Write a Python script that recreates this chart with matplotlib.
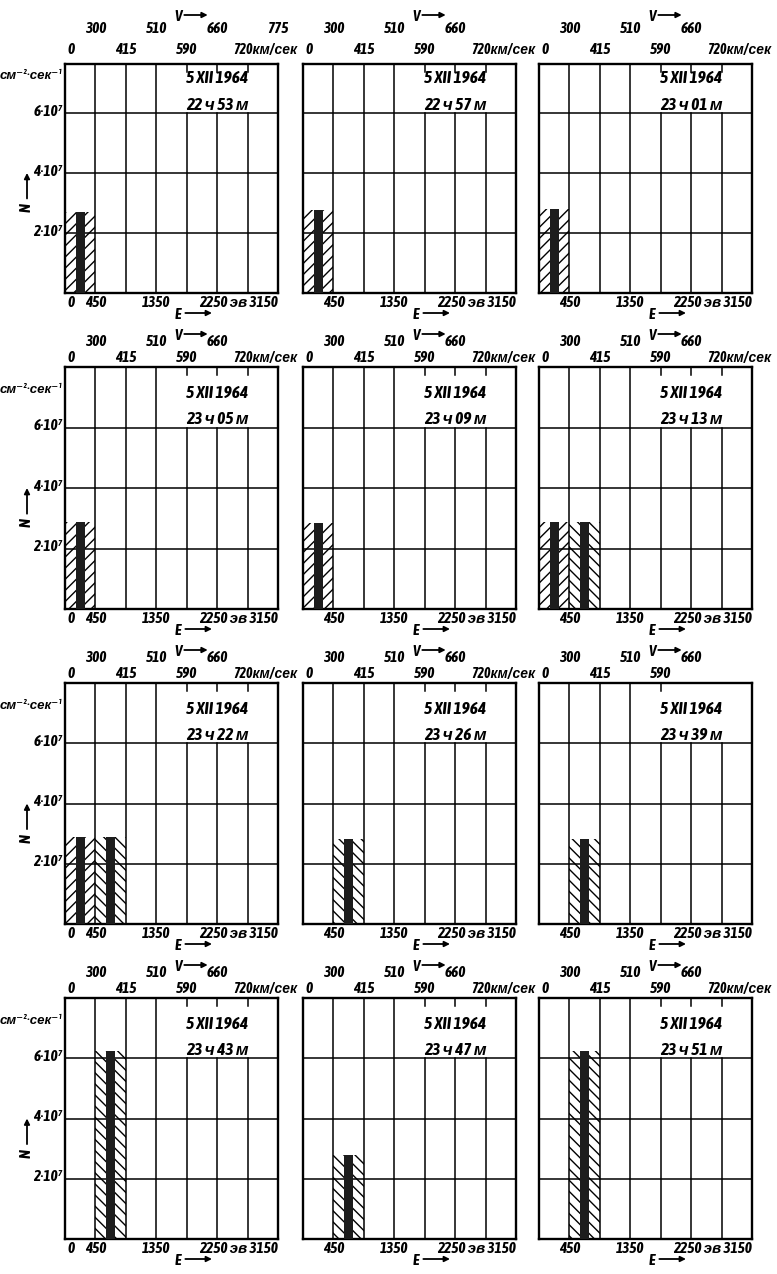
import matplotlib
matplotlib.use('Agg')
import matplotlib.pyplot as plt
from matplotlib import font_manager as fm
import numpy as np

_names = {f.name for f in fm.fontManager.ttflist}
_fams = [n for n in ['Asap Condensed', 'Archivo Narrow']
         if n in _names][:1] + ['Liberation Sans', 'DejaVu Sans']
plt.rcParams['font.family'] = _fams
plt.rcParams['font.style'] = 'italic'
plt.rcParams['font.weight'] = 600
plt.rcParams['hatch.linewidth'] = 1.0

# ---------------- data ----------------
date_label = '5 XII 1964'
times = ['22 ч 53 м', '22 ч 57 м', '23 ч 01 м',
         '23 ч 05 м', '23 ч 09 м', '23 ч 13 м',
         '23 ч 22 м', '23 ч 26 м', '23 ч 39 м',
         '23 ч 43 м', '23 ч 47 м', '23 ч 51 м']
# left energy edge (eV) of each filled channel, per panel
bar_left_edges = [[0], [0], [0],
                  [0], [0], [0, 450],
                  [0, 450], [450], [450],
                  [450], [450], [450]]
# flux N in units of 10^7 cm^-2 s^-1
bar_heights = [[2.70], [2.75], [2.80],
               [2.88], [2.85], [2.88, 2.88],
               [2.90, 2.90], [2.83], [2.82],
               [6.24], [2.80], [6.24]]
bar_hatches = [['/'], ['/'], ['/'],
               ['/'], ['/'], ['/', '\\'],
               ['/', '\\'], ['\\'], ['\\'],
               ['\\'], ['\\'], ['\\']]
channel_width = 450                       # eV
energy_edges = [0, 450, 900, 1350, 1800, 2250, 2700, 3150]
velocity_upper = ['300', '510', '660', '775']   # at 450, 1350, 2250, 3150 eV
velocity_lower = ['0', '415', '590', '720']     # at 0, 900, 1800, 2700 eV
flux_ticks = [2, 4, 6]
flux_tick_labels = ['2·10⁷', '4·10⁷', '6·10⁷']

# ---------------- layout ----------------
W, H = 777, 1274
fig = plt.figure(figsize=(W / 100, H / 100), dpi=100)
fig.patch.set_facecolor('white')

col_x = [65, 303, 539]
col_w = 213
rows = [(64, 293), (367, 609), (683, 924), (998, 1239)]
row_top = [7.63, 8.0, 8.0, 8.0]
# pixel offsets above the top edge: lower velocity row, upper row, "V"
top_off = [(14, 35, 47), (9, 25, 31), (9, 25, 31), (9, 25, 31)]
FS = 11

def txt(ax, x, yax, dy_px, s, dx_px=0, **kw):
    kw.setdefault('va', 'center')
    ax.annotate(s, xy=(x, yax), xycoords=('data', 'axes fraction'),
                xytext=(dx_px * 0.72, dy_px * 0.72), textcoords='offset points',
                annotation_clip=False, **kw)

def hline_arrow(ax, x0, x1, y):
    ax.annotate('', xy=(x1, y), xycoords='axes fraction',
                xytext=(x0, y), textcoords='axes fraction',
                arrowprops=dict(arrowstyle='-|>', lw=1.3, color='black',
                                mutation_scale=8, shrinkA=0, shrinkB=0),
                annotation_clip=False)

for i in range(12):
    r, c = divmod(i, 3)
    top, bot = rows[r]
    hpx = bot - top
    ytop = row_top[r]
    ax = fig.add_axes([col_x[c] / W, 1 - bot / H, col_w / W, hpx / H])
    ax.set_xlim(0, energy_edges[-1])
    ax.set_ylim(0, ytop)
    ax.set_xticks([])
    ax.set_yticks([])
    for s in ax.spines.values():
        s.set_linewidth(1.7)
    px_y = ytop / hpx   # data units per pixel

    # grid
    for e in energy_edges[1:-1]:
        if e <= 1350:
            ax.plot([e, e], [0, ytop], color='black', lw=1.1)
        else:
            ax.plot([e, e], [0, 6], color='black', lw=1.1)
            if not (i == 8 and e > 1800):
                ax.plot([e, e], [ytop - 8 * px_y, ytop], color='black', lw=1.1)
    for yv in flux_ticks:
        ax.plot([0, energy_edges[-1]], [yv, yv], color='black', lw=1.1)

    # bars: hatched channel with dark central band
    for left, h, hat in zip(bar_left_edges[i], bar_heights[i], bar_hatches[i]):
        ax.bar(left, h, width=channel_width, align='edge', facecolor='none',
               edgecolor='black', linewidth=0, hatch=hat * 3, zorder=3)
        ax.bar(left + channel_width / 2, h, width=channel_width * 0.3,
               align='center', color='#1d1d1d', linewidth=0, zorder=4)

    # date / time annotation
    ax.text(1790, 7.15, date_label, fontsize=12.5, ha='left', va='center')
    ax.text(1790, 6.28, times[i], fontsize=12.5, ha='left', va='center')

    # bottom energy labels
    if c == 0:
        txt(ax, 0, 0, -10, '0', dx_px=2, ha='left', fontsize=FS)
    txt(ax, 450, 0, -10, '450', ha='center', fontsize=FS)
    txt(ax, 1350, 0, -10, '1350', ha='center', fontsize=FS)
    txt(ax, 3150, 0, -10, '2250 эв 3150', ha='right', fontsize=FS)
    ax.text(0.53, -22 / hpx, 'E', transform=ax.transAxes,
            ha='center', va='center', fontsize=FS)
    hline_arrow(ax, 0.565, 0.69, -20 / hpx)

    # top velocity labels
    lo_off, up_off, v_off = top_off[r]
    up_pos = [450, 1350, 2250, 3150]
    for k, (e, lab) in enumerate(zip(up_pos, velocity_upper)):
        if k == 3 and i != 0:
            continue
        txt(ax, e, 1, up_off, lab, ha='center', fontsize=FS)
    lo_pos = [0, 900, 1800, 2700]
    for k, (e, lab) in enumerate(zip(lo_pos, velocity_lower)):
        if k == 0:
            txt(ax, e, 1, lo_off, lab, dx_px=2, ha='left', fontsize=FS)
        elif k == 3:
            if i == 8:
                continue
            txt(ax, e, 1, lo_off, lab + 'км/сек', dx_px=-14, ha='left',
                fontsize=FS - 1)
        else:
            txt(ax, e, 1, lo_off, lab, ha='center', fontsize=FS)
    ax.text(0.53, 1 + v_off / hpx, 'V', transform=ax.transAxes,
            ha='center', va='center', fontsize=FS)
    hline_arrow(ax, 0.56, 0.67, 1 + (v_off + 2) / hpx)

    # left axis labels
    if c == 0:
        yt = ax.get_yaxis_transform()
        for yv, lab in zip(flux_ticks, flux_tick_labels):
            ax.annotate(lab, xy=(0, yv), xycoords='data', xytext=(-2, 1),
                        textcoords='offset points', ha='right', va='center',
                        fontsize=FS, annotation_clip=False)
        ax.annotate('см⁻²·сек⁻¹', xy=(0, 7.25), xycoords='data', xytext=(-2, 0),
                    textcoords='offset points', ha='right', va='center',
                    fontsize=9.5, annotation_clip=False)
        xn = -38 / col_w
        ax.text(xn, 2.85, 'N', transform=yt, ha='center', va='center',
                rotation=90, fontsize=FS)
        ax.annotate('', xy=(xn, 4.0), xycoords=yt, xytext=(xn, 3.15),
                    textcoords=yt,
                    arrowprops=dict(arrowstyle='-|>', lw=1.3, color='black',
                                    mutation_scale=8, shrinkA=0, shrinkB=0),
                    annotation_clip=False)

fig.savefig('out.png', dpi=100)
